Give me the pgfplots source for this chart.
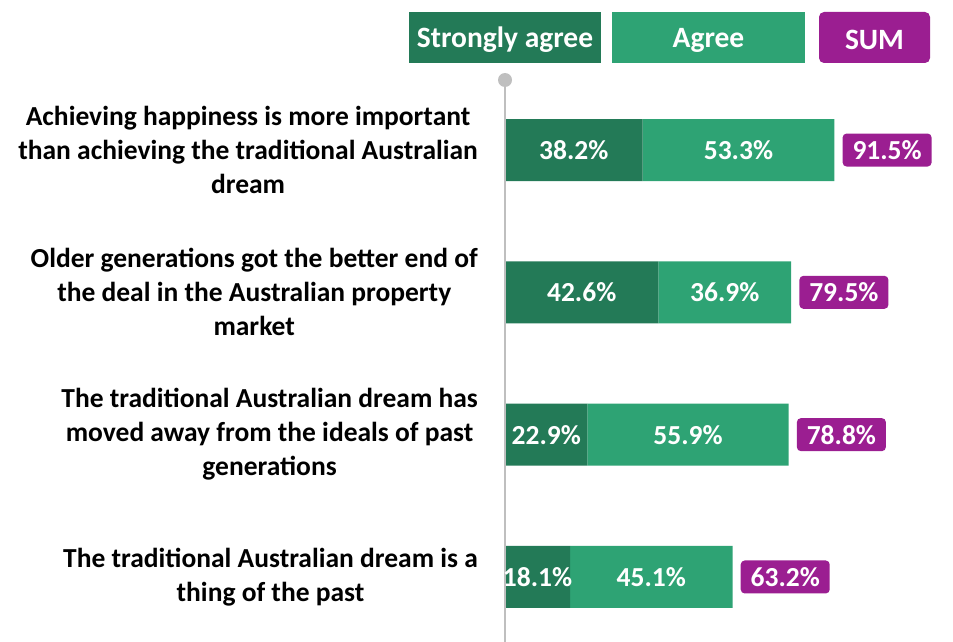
\documentclass[border=0pt]{standalone}
\usepackage{fontspec}
\setmainfont{Carlito}
\usepackage{pgfplots}
\pgfplotsset{compat=1.18}
\usepackage{pgfplotstable}
\definecolor{sa}{RGB}{35,122,87}
\definecolor{ag}{RGB}{46,163,116}
\definecolor{sm}{RGB}{155,30,145}
\definecolor{ln}{RGB}{191,191,191}
\pgfplotstableread{
y sa ag sum
0 38.2 53.3 91.5
1 42.6 36.9 79.5
2 22.9 55.9 78.8
3 18.1 45.1 63.2
}\data
\newcommand{\lblfont}{\fontsize{27.5}{34}\selectfont\bfseries}
\newcommand{\valfont}{\fontsize{27.5}{30}\selectfont\bfseries}
\newcommand{\legfont}{\fontsize{29.5}{32}\selectfont\bfseries}
\newcommand{\pct}{\pgfmathprintnumber[fixed,fixed zerofill,precision=1,assume math mode=true]{\pgfplotspointmeta}\%}
\begin{document}
\begin{tikzpicture}[x=1pt,y=1pt]
\path[use as bounding box] (0,0) rectangle (953,-642);
\pgfplotsset{common/.style={at={(505pt,-80pt)}, anchor=north west, scale only axis,
  width=360pt, height=562pt, xmin=0, xmax=100, ymin=-0.492, ymax=3.457, y dir=reverse}}
\begin{axis}[common, xbar stacked, bar width=62pt,
  axis x line=none, axis y line*=left, axis line style={ln, line width=2pt},
  ytick={0,1,2,3}, major tick length=0pt,
  yticklabels={{Achieving happiness is more important\\than achieving the traditional Australian\\dream},
    {Older generations got the better end of\\the deal in the Australian property\\market},
    {The traditional Australian dream has\\moved away from the ideals of past\\generations},
    {The traditional Australian dream is a\\thing of the past}},
  yticklabel style={align=center, font=\lblfont, inner sep=0pt, xshift=-27pt},
  axis on top]
\addplot[fill=sa, draw=none] table[x=sa, y=y]{\data};
\addplot[fill=ag, draw=none] table[x=ag, y=y]{\data};
\end{axis}
\begin{axis}[common, hide axis]
\addplot[draw=none, mark=none, nodes near coords=\pct, point meta=\thisrow{sa},
  every node near coord/.style={anchor=center, text=white, font=\valfont}]
  table[x expr=\thisrow{sa}/2, y=y]{\data};
\addplot[draw=none, mark=none, nodes near coords=\pct, point meta=\thisrow{ag},
  every node near coord/.style={anchor=center, text=white, font=\valfont}]
  table[x expr=\thisrow{sa}+\thisrow{ag}/2, y=y]{\data};
\addplot[draw=none, mark=none, nodes near coords=\pct, point meta=\thisrow{sum},
  every node near coord/.style={anchor=west, xshift=8pt, fill=sm, rounded corners=4pt,
    minimum width=89pt, minimum height=33pt, inner sep=0pt, text=white, font=\valfont}]
  table[x=sum, y=y]{\data};
\end{axis}
\fill[ln] (505,-80) circle (7pt);
\fill[sa] (409,-12) rectangle (601,-63);
\fill[ag] (612,-12) rectangle (805,-63);
\fill[sm, rounded corners=5pt] (819,-12) rectangle (930,-63);
\node[text=white, font=\legfont, inner sep=0pt] at (505,-40) {Strongly agree};
\node[text=white, font=\legfont, inner sep=0pt] at (708.5,-40) {Agree};
\node[text=white, font=\legfont, inner sep=0pt] at (874.5,-40) {SUM};
\end{tikzpicture}
\end{document}
